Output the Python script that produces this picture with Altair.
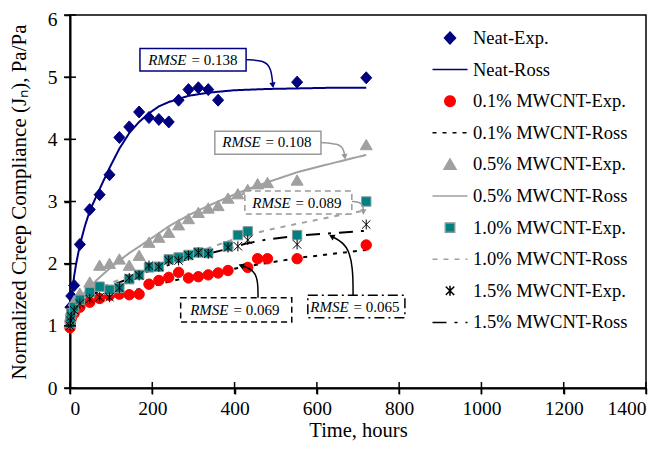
import altair as alt
import pandas as pd

FONT = "Liberation Serif"

SERIES = ["Neat-Exp.", "Neat-Ross", "0.1% MWCNT-Exp.", "0.1% MWCNT-Ross",
          "0.5% MWCNT-Exp.", "0.5% MWCNT-Ross", "1.0% MWCNT-Exp.", "1.0% MWCNT-Ross",
          "1.5% MWCNT-Exp.", "1.5% MWCNT-Ross"]

# ---- experimental data (hours, normalized compliance) ----
neat_t = [0, 1, 3, 10, 24, 48, 72, 96, 120, 144, 168, 192, 216, 240, 264, 288, 312, 336, 360, 552, 720]
neat_j = [1.0, 1.3, 1.48, 1.65, 2.31, 2.87, 3.11, 3.43, 4.03, 4.20, 4.44, 4.35, 4.32, 4.28, 4.63, 4.80, 4.83, 4.80, 4.63, 4.92, 4.99]

c01_t = [0, 1, 3, 10, 24, 48, 72, 96, 120, 144, 168, 192, 216, 240, 264, 288, 312, 336, 360, 384, 432, 456, 480, 552, 720]
c01_j = [0.97, 1.05, 1.12, 1.2, 1.3, 1.38, 1.44, 1.49, 1.51, 1.50, 1.51, 1.67, 1.73, 1.78, 1.86, 1.77, 1.79, 1.82, 1.85, 1.89, 1.94, 2.08, 2.08, 2.08, 2.30]

c05_t = [0, 1, 3, 10, 24, 48, 72, 96, 120, 144, 168, 192, 216, 240, 264, 288, 312, 336, 360, 384, 408, 432, 456, 480, 552, 720]
c05_j = [1.05, 1.15, 1.25, 1.4, 1.52, 1.70, 1.97, 2.0, 2.07, 1.97, 2.13, 2.34, 2.42, 2.5, 2.62, 2.72, 2.82, 2.89, 2.93, 3.05, 3.12, 3.19, 3.28, 3.30, 3.34, 3.91]

c10_t = [0, 1, 3, 10, 24, 48, 72, 96, 120, 144, 168, 192, 216, 240, 264, 288, 312, 336, 384, 408, 432, 552, 720]
c10_j = [1.04, 1.12, 1.2, 1.3, 1.42, 1.54, 1.63, 1.58, 1.61, 1.75, 1.82, 1.94, 1.95, 2.07, 2.10, 2.14, 2.18, 2.17, 2.28, 2.46, 2.52, 2.46, 3.0]

c15_t = [0, 1, 3, 10, 24, 48, 72, 96, 120, 144, 168, 192, 216, 240, 264, 288, 312, 336, 384, 408, 432, 552, 720]
c15_j = [1.0, 1.08, 1.15, 1.25, 1.36, 1.43, 1.46, 1.46, 1.61, 1.77, 1.81, 1.97, 1.95, 2.05, 2.05, 2.13, 2.18, 2.16, 2.26, 2.28, 2.38, 2.31, 2.63]

# ---- Ross model curves ----
neat_ross_t = [0, 2, 5, 10, 15, 24, 36, 48, 72, 96, 120, 144, 168, 192, 216, 240, 288, 336, 400, 480, 560, 640, 720]
neat_ross_j = [1.0, 1.3, 1.5, 1.8, 2.0, 2.3, 2.6, 2.85, 3.2, 3.54, 3.85, 4.1, 4.28, 4.42, 4.53, 4.6, 4.7, 4.75, 4.79, 4.81, 4.82, 4.83, 4.83]

ross_t = [0, 5, 12, 24, 48, 72, 96, 120, 144, 192, 240, 288, 336, 384, 432, 480, 552, 640, 720]
c01_ross_j = [1.0, 1.12, 1.2, 1.27, 1.35, 1.41, 1.46, 1.51, 1.55, 1.63, 1.71, 1.78, 1.84, 1.9, 1.96, 2.01, 2.09, 2.16, 2.22]
c05_ross_j = [1.0, 1.2, 1.32, 1.45, 1.63, 1.78, 1.92, 2.05, 2.17, 2.38, 2.6, 2.78, 2.93, 3.07, 3.2, 3.31, 3.47, 3.62, 3.75]
c10_ross_j = [1.0, 1.2, 1.3, 1.4, 1.5, 1.6, 1.68, 1.74, 1.8, 1.93, 2.05, 2.15, 2.25, 2.36, 2.46, 2.54, 2.64, 2.76, 2.86]
c15_ross_j = [1.0, 1.2, 1.3, 1.38, 1.48, 1.56, 1.63, 1.7, 1.76, 1.88, 1.98, 2.08, 2.16, 2.24, 2.33, 2.39, 2.45, 2.49, 2.53]

# ---- axis ticks ----
x_ticks = [0, 200, 400, 600, 800, 1000, 1200, 1400]
y_ticks = [0, 1, 2, 3, 4, 5, 6]

# ---- annotations (RMSE boxes) ----
box_label = ["= 0.138", "= 0.108", "= 0.089", "= 0.069", "= 0.065"]
box_x1 = [170, 352, 425, 269, 578]
box_x2 = [428, 610, 685, 539, 814]
box_y1 = [5.10, 3.76, 2.80, 1.06, 1.13]
box_y2 = [5.46, 4.13, 3.17, 1.45, 1.49]
box_split = [288, 468, 541, 390, 682]
box_ty = [5.28, 3.95, 2.98, 1.26, 1.31]
box_color = ["#000080", "#999999", "#999999", "#000000", "#000000"]
box_dash = [[1, 0], [1, 0], [6, 4], [6, 4], [10, 4, 2, 4]]

arrow_x = [[428, 472, 489, 493], [610, 652, 665, 668], [685, 706, 713, 713],
           [457, 457, 447, 416], [688, 688, 676, 636]]
arrow_y = [[5.28, 5.27, 5.15, 4.87], [3.95, 3.93, 3.85, 3.72], [3.0, 2.99, 2.92, 2.83],
           [1.45, 1.72, 1.9, 1.97], [1.49, 1.92, 2.3, 2.44]]
arrow_angle = [172, 170, 180, 290, 298]

# ---- styles ----
FILL = ["#000080", "#000080", "#ff0000", "#000000", "#a0a0a0", "#a0a0a0",
        "#008080", "#a0a0a0", "#000000", "#000000"]
STROKE = ["#000080", "#000080", "#ff0000", "#000000", "#a0a0a0", "#a0a0a0",
          "#8a9a9a", "#a0a0a0", "#000000", "#000000"]
LINE_PATH = "M-1.75,0L1.75,0"
SHAPES = [
    "M0,-0.6L0.55,0L0,0.6L-0.55,0Z",
    LINE_PATH,
    "M-0.52,0A0.52,0.52 0 1,0 0.52,0A0.52,0.52 0 1,0 -0.52,0Z",
    LINE_PATH,
    "M0,-0.55L0.6,0.48L-0.6,0.48Z",
    LINE_PATH,
    "M-0.47,-0.47L0.47,-0.47L0.47,0.47L-0.47,0.47Z",
    LINE_PATH,
    "M0,-0.5L0,0.5M-0.42,-0.42L0.42,0.42M-0.42,0.42L0.42,-0.42",
    LINE_PATH,
]
DASHES = [[1, 0], [1, 0], [1, 0], [4, 6], [1, 0], [1, 0], [1, 0], [5, 6], [1, 0], [14, 8, 3, 8]]

exp_parts = []
for name, t, j in [(SERIES[0], neat_t, neat_j), (SERIES[2], c01_t, c01_j),
                   (SERIES[4], c05_t, c05_j), (SERIES[6], c10_t, c10_j),
                   (SERIES[8], c15_t, c15_j)]:
    exp_parts.append(pd.DataFrame({"t": t, "j": j, "series": name}))
exp_df = pd.concat(exp_parts, ignore_index=True)

ross_parts = [pd.DataFrame({"t": neat_ross_t, "j": neat_ross_j, "series": SERIES[1]})]
for name, j in [(SERIES[3], c01_ross_j), (SERIES[5], c05_ross_j),
                (SERIES[7], c10_ross_j), (SERIES[9], c15_ross_j)]:
    ross_parts.append(pd.DataFrame({"t": ross_t, "j": j, "series": name}))
ross_df = pd.concat(ross_parts, ignore_index=True)

legend = alt.Legend(title=None, orient="none", legendX=369, legendY=12,
                    labelFont=FONT, labelFontSize=18.5, labelColor="black",
                    labelLimit=400, symbolSize=400, symbolStrokeWidth=1.5,
                    labelOffset=12, rowPadding=10.6, padding=0, symbolOpacity=1)

x_enc = alt.X("t:Q", scale=alt.Scale(domain=[0, 1400], nice=False),
              axis=alt.Axis(values=x_ticks, title="Time, hours", format="d"))
y_enc = alt.Y("j:Q", scale=alt.Scale(domain=[0, 6], nice=False),
              axis=alt.Axis(values=y_ticks, format="d",
                            labelOffset={"condition": {"test": "datum.value == 6", "value": 4}, "value": 0},
                            title="Normalized Creep Compliance (J\u2099), Pa/Pa"))

stroke_scale = alt.Scale(domain=SERIES, range=STROKE)

lines = alt.Chart(ross_df).mark_line(strokeWidth=2).encode(
    x=x_enc, y=y_enc,
    stroke=alt.Stroke("series:N", scale=stroke_scale, legend=legend),
    strokeDash=alt.StrokeDash("series:N", scale=alt.Scale(domain=SERIES, range=DASHES), legend=legend),
)

points = alt.Chart(exp_df).mark_point(filled=True, size=400, opacity=1, strokeWidth=1).encode(
    x="t:Q", y="j:Q",
    fill=alt.Fill("series:N", scale=alt.Scale(domain=SERIES, range=FILL), legend=legend),
    stroke=alt.Stroke("series:N", scale=stroke_scale, legend=legend),
    shape=alt.Shape("series:N", scale=alt.Scale(domain=SERIES, range=SHAPES), legend=legend),
)

# inward halves of the crossing axis ticks
xt = alt.Chart(pd.DataFrame({"t": x_ticks})).mark_tick(
    orient="vertical", size=12, thickness=1.5, color="black", opacity=1).encode(
    x="t:Q", y=alt.datum(0))
yt = alt.Chart(pd.DataFrame({"j": y_ticks})).mark_tick(
    orient="horizontal", size=12, thickness=1.5, color="black", opacity=1).encode(
    y="j:Q", x=alt.datum(0))

layers = [lines, points]

for i in range(len(box_label)):
    bdf = pd.DataFrame({"x1": [box_x1[i]], "x2": [box_x2[i]], "y1": [box_y1[i]], "y2": [box_y2[i]],
                        "sx": [box_split[i]], "ty": [box_ty[i]], "lab": [box_label[i]]})
    layers.append(alt.Chart(bdf).mark_rect(fill="white", stroke=box_color[i], strokeWidth=1.5,
                                           strokeDash=box_dash[i]).encode(
        x="x1:Q", x2="x2:Q", y="y1:Q", y2="y2:Q"))
    layers.append(alt.Chart(bdf).mark_text(text="RMSE", font=FONT, fontSize=15, fontStyle="italic",
                                           align="right", baseline="middle", dx=-2, color="black").encode(
        x="sx:Q", y="ty:Q"))
    layers.append(alt.Chart(bdf).mark_text(font=FONT, fontSize=15, align="left", baseline="middle",
                                           dx=3, color="black").encode(
        x="sx:Q", y="ty:Q", text="lab:N"))
    adf = pd.DataFrame({"x": arrow_x[i], "y": arrow_y[i], "k": list(range(len(arrow_x[i])))})
    layers.append(alt.Chart(adf).mark_line(interpolate="basis", color=box_color[i], strokeWidth=1.5).encode(
        x="x:Q", y="y:Q", order="k:Q"))
    hdf = adf.tail(1)
    layers.append(alt.Chart(hdf).mark_point(shape="triangle-up", filled=True, size=40, opacity=1,
                                            color=box_color[i], angle=arrow_angle[i]).encode(
        x="x:Q", y="y:Q"))

layers += [xt, yt]

chart = alt.layer(*layers).properties(
    width=576, height=373,
    autosize=alt.AutoSizeParams(type="none"),
    padding={"left": 62, "top": 7, "right": 13, "bottom": 55},
).configure_view(stroke="black", strokeWidth=1.5).configure_axis(
    grid=False, domainColor="black", domainWidth=2, tickColor="black", tickWidth=1.5,
    tickSize=6, labelFont=FONT, labelFontSize=19.5, labelColor="black", titleFont=FONT,
    titleFontWeight="normal", titleColor="black",
).configure_axisX(labelPadding=5, titlePadding=3, titleFontSize=20.5).configure_axisY(
    labelPadding=7, titlePadding=18, titleFontSize=21)

chart.save("out.html", embed_options={"renderer": "svg", "actions": False})
